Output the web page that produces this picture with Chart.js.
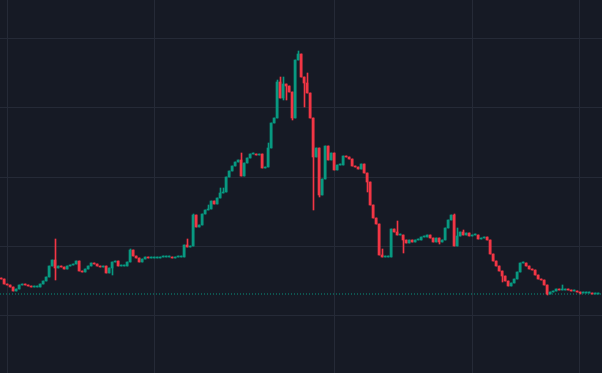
<!DOCTYPE html>
<html>
<head>
<meta charset="utf-8">
<script src="https://cdn.jsdelivr.net/npm/chart.js@4.4.1/dist/chart.umd.min.js"></script>
<style>
  html, body { margin: 0; padding: 0; background: #161a25; }
  #wrap { width: 602px; height: 373px; }
</style>
</head>
<body>
<div id="wrap"><canvas id="c" width="602" height="373"></canvas></div>
<script>
// ---- data (price in chart units) ----
const firstOpen = 95;
const closes = [
  94, 89, 88, 86, 82, 84, 88, 89, 88, 87,
  86, 86, 86, 89, 92, 96, 107, 113, 105, 107,
  106, 104, 107, 108, 109, 112, 102, 101, 104, 107,
  110, 109, 107, 106, 107, 100, 105, 111, 112, 107,
  107, 107, 111, 123, 117, 115, 111, 114, 116, 115,
  115, 115, 115, 116, 116, 116, 116, 115, 116, 116,
  116, 128, 126, 127, 158, 146, 148, 159, 163, 164,
  172, 169, 175, 180, 181, 196, 202, 207, 211, 213,
  197, 210, 215, 219, 219, 218, 219, 205, 206, 225,
  250, 255, 291, 275, 289, 287, 281, 255, 313, 319,
  296, 290, 280, 255, 216, 225, 178, 194, 227, 213,
  220, 203, 208, 208, 217, 216, 214, 207, 206, 204,
  209, 200, 191, 168, 155, 149, 118, 116, 116, 116,
  144, 141, 138, 138, 133, 130, 133, 131, 133, 133,
  136, 136, 138, 135, 131, 135, 131, 133, 145, 153,
  158, 127, 137, 141, 138, 140, 137, 138, 138, 134,
  135, 136, 133, 119, 112, 107, 102, 97, 92, 87,
  90, 94, 101, 110, 110, 107, 104, 103, 98, 94,
  93, 88, 79, 81, 82, 84, 83, 83, 84, 83,
  82, 82, 81, 80, 80, 80, 80, 79, 79, 79
];
// candles whose wick reaches beyond the body
const spikeIdx  = [18, 37, 43, 62, 64, 69, 73, 74, 80, 89, 92, 93, 94, 95, 97, 99, 101, 102, 104, 106, 122, 127, 132, 134, 146, 151, 152, 154, 167, 182, 187, 193];
const spikeHigh = [134, null, 124, 134, 159, 168, 185, 185, 220, 230, 293, 296, 296, null, null, 322, null, 300, null, null, null, 124, 152, null, null, 159, 145, 143, null, null, 88, null];
const spikeLow  = [93, 98, null, null, null, null, null, null, null, null, null, null, 273, 273, 253, null, 266, null, 163, 176, 181, null, null, 120, 129, null, null, null, 91, 78, null, 79];
// grid positions (time boundaries in candle index units, price levels)
const timeGridAt  = [2.33, 51, 111, 157.33, 192.67];
const priceGridAt = [58, 127, 196, 265, 334];

// ---- build candles ----
const UP = '#089981', DOWN = '#f23645';
const opens = closes.map((c, i) => i === 0 ? firstOpen : closes[i - 1]);
const highs = closes.map((c, i) => Math.max(c, opens[i]));
const lows  = closes.map((c, i) => Math.min(c, opens[i]));
spikeIdx.forEach((idx, k) => {
  if (spikeHigh[k] != null) highs[idx] = Math.max(highs[idx], spikeHigh[k]);
  if (spikeLow[k] != null) lows[idx] = Math.min(lows[idx], spikeLow[k]);
});
const isUp = closes.map((c, i) => c >= opens[i]);
const bodyData = closes.map((c, i) => ({ x: i, y: [opens[i], c] }));
const wickData = closes.map((c, i) => ({ x: i + 1 / 6, y: [lows[i], highs[i]] }));
const lastPrice = closes[closes.length - 1];

const gridColor = '#252a37';

new Chart(document.getElementById('c'), {
  type: 'bar',
  data: {
    datasets: [
      {
        type: 'line',
        data: [{ x: -0.34, y: lastPrice }, { x: 200.4, y: lastPrice }],
        borderColor: UP,
        borderWidth: 1,
        borderDash: [1, 2],
        pointRadius: 0,
        order: 3
      },
      {
        data: wickData,
        grouped: false,
        barThickness: 1,
        minBarLength: 1,
        backgroundColor: ctx => isUp[ctx.dataIndex] ? UP : DOWN,
        borderWidth: 0,
        order: 2
      },
      {
        data: bodyData,
        grouped: false,
        barThickness: 2,
        minBarLength: 1,
        backgroundColor: ctx => isUp[ctx.dataIndex] ? UP : DOWN,
        borderWidth: 0,
        order: 1
      }
    ]
  },
  options: {
    responsive: false,
    maintainAspectRatio: false,
    animation: false,
    events: [],
    layout: { padding: 0, autoPadding: false },
    plugins: { legend: { display: false }, tooltip: { enabled: false } },
    scales: {
      x: {
        type: 'linear',
        min: -1 / 3,
        max: 602 / 3 - 1 / 3,
        offset: false,
        ticks: { display: false },
        border: { display: false },
        grid: { color: gridColor, drawTicks: false, offset: false },
        afterBuildTicks: axis => { axis.ticks = timeGridAt.map(v => ({ value: v })); }
      },
      y: {
        min: 0,
        max: 373,
        ticks: { display: false },
        border: { display: false },
        grid: { color: gridColor, drawTicks: false },
        afterBuildTicks: axis => { axis.ticks = priceGridAt.map(v => ({ value: v })); }
      }
    }
  },
  plugins: [{
    id: 'bg',
    beforeDraw: chart => {
      const c = chart.ctx;
      c.save();
      c.fillStyle = '#161a25';
      c.fillRect(0, 0, chart.width, chart.height);
      c.restore();
    }
  }]
});
</script>
</body>
</html>
